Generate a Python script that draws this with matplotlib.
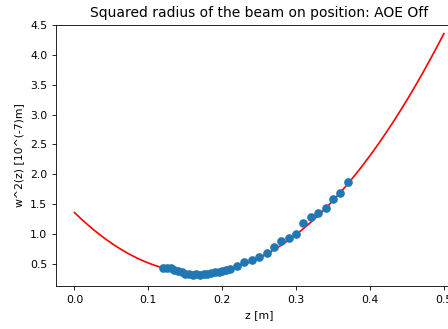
import matplotlib
matplotlib.use("Agg")
import matplotlib.pyplot as plt
import numpy as np

# measured beam radius squared [10^-7 m] vs position z [m]
z_meas = [0.120, 0.125, 0.130, 0.135, 0.140, 0.145, 0.150, 0.155, 0.160, 0.165,
          0.170, 0.175, 0.180, 0.185, 0.190, 0.195, 0.200, 0.205, 0.210,
          0.220, 0.230, 0.240, 0.250, 0.260, 0.270, 0.280, 0.290, 0.300,
          0.310, 0.320, 0.330, 0.340, 0.350, 0.360, 0.370]
w2_meas = [0.43, 0.44, 0.44, 0.40, 0.38, 0.36, 0.34, 0.33, 0.32, 0.33,
           0.32, 0.33, 0.33, 0.35, 0.36, 0.37, 0.38, 0.40, 0.42,
           0.47, 0.54, 0.57, 0.61, 0.68, 0.78, 0.885, 0.94, 1.00,
           1.18, 1.29, 1.36, 1.44, 1.59, 1.68, 1.88]

# gaussian beam fit: w^2(z) = w0^2 * (1 + ((z - z0) / zR)^2)
w0_sq = 0.355
z0 = 0.167
zR = 0.0992
z_range = (0.0, 0.5)

z_fit = np.linspace(z_range[0], z_range[1], 300)
w2_fit = w0_sq * (1 + ((z_fit - z0) / zR) ** 2)

fig = plt.figure(figsize=(4.48, 3.29), dpi=100)
ax = fig.add_axes([0.125, 0.1307, 0.907, 0.7934])

ax.plot(z_fit, w2_fit, color="red", linewidth=1.2)
ax.plot(z_meas, w2_meas, "o", color="#1f77b4", markersize=5.2)

ax.set_title("Squared radius of the beam on position: AOE Off", fontsize=10)
ax.set_xlabel("z [m]", fontsize=7.8)
ax.set_ylabel("w^2(z) [10^(-7)m]", fontsize=7.8)
ax.tick_params(labelsize=7.8, width=0.6, length=2.8)
ax.set_xticks([0.0, 0.1, 0.2, 0.3, 0.4, 0.5])
ax.set_xlim(-0.025, 0.525)
ax.set_ylim(0.132, 4.5)
for s in ax.spines.values():
    s.set_linewidth(0.6)

fig.savefig("out.png", dpi=100)
